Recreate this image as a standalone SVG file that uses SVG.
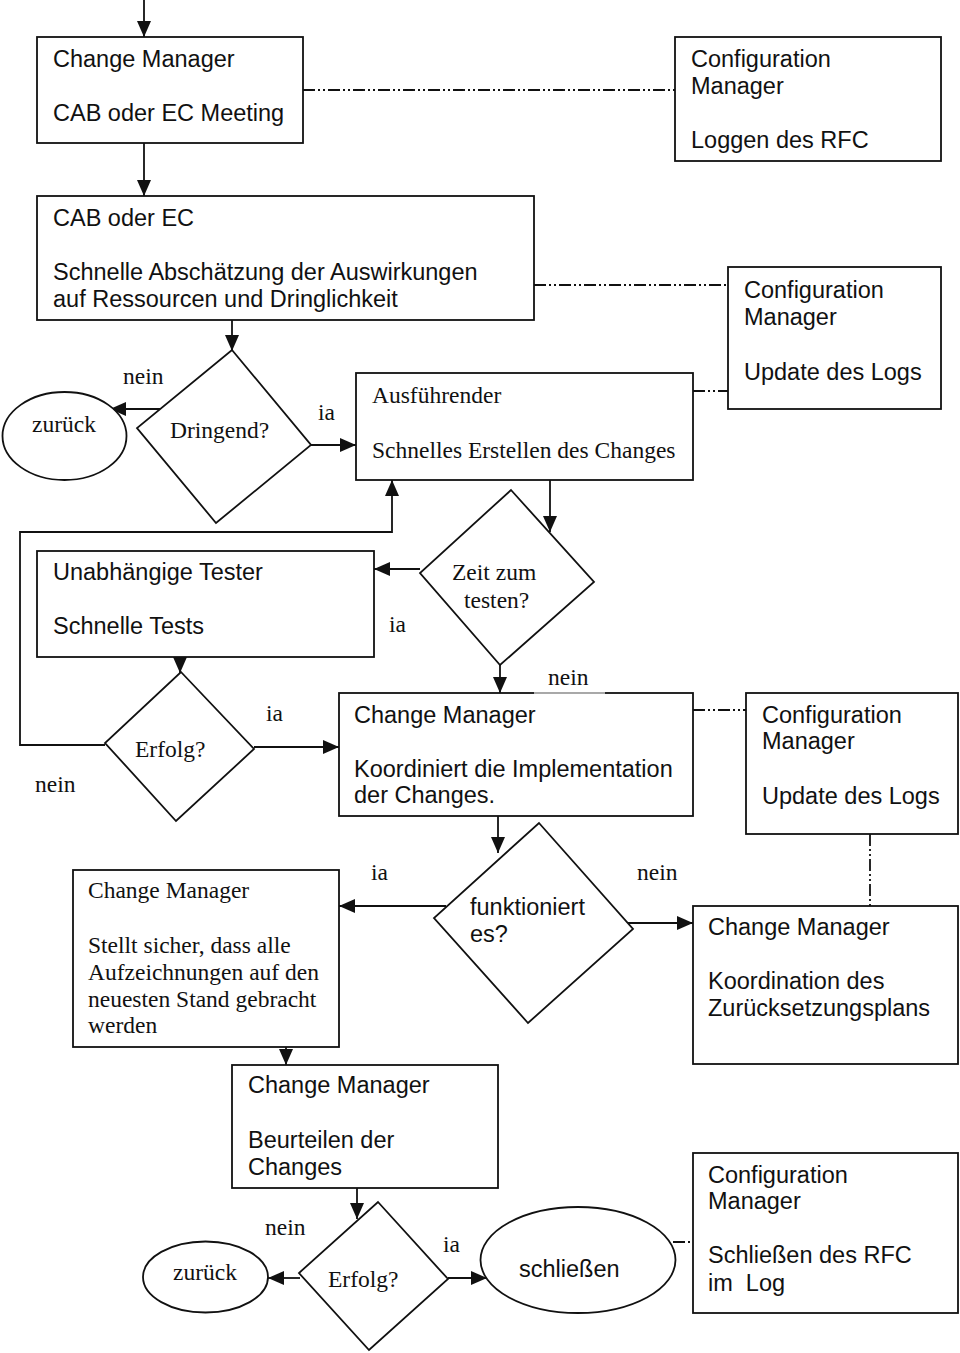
<svg xmlns="http://www.w3.org/2000/svg" width="960" height="1353" viewBox="0 0 960 1353">
<defs>
<marker id="ah" markerUnits="userSpaceOnUse" markerWidth="18" markerHeight="18" refX="16" refY="8" orient="auto"><path d="M0,1 L16,8 L0,15 z" fill="#111"/></marker>
<style>
.b{fill:#fff;stroke:#111;stroke-width:1.8}
.s{font-family:"Liberation Sans",Arial,sans-serif;font-size:23.5px;fill:#111}
.t{font-family:"Liberation Serif","Times New Roman",serif;font-size:23.5px;fill:#111}
.c{fill:none;stroke:#111;stroke-width:1.8}
.a{marker-end:url(#ah)}
.d{fill:none;stroke:#111;stroke-width:1.8;stroke-dasharray:12 3 2 3 2 3}
</style>
</defs>
<g id="connectors">
<line class="c a" x1="144" y1="0" x2="144" y2="37"/>
<line class="c a" x1="144" y1="143" x2="144" y2="196"/>
<line class="c a" x1="232" y1="320" x2="232" y2="351"/>
<line class="d" x1="303" y1="90" x2="675" y2="90"/>
<line class="d" x1="534" y1="285" x2="728" y2="285"/>
<line class="d" x1="693" y1="391" x2="728" y2="391"/>
<line class="c a" x1="162" y1="409" x2="110" y2="409"/>
<line class="c a" x1="311" y1="445" x2="356" y2="445"/>
<line class="c a" x1="550" y1="480" x2="550" y2="532"/>
<line class="c a" x1="420" y1="569" x2="374" y2="569"/>
<line class="c a" x1="500" y1="665" x2="500" y2="693"/>
<line class="c a" x1="180" y1="657" x2="180" y2="673"/>
<polyline class="c a" points="105,745 20,745 20,532 392,532 392,480"/>
<line class="c a" x1="254" y1="747" x2="339" y2="747"/>
<line class="d" x1="693" y1="710" x2="746" y2="710"/>
<line class="d" x1="870" y1="834" x2="870" y2="906"/>
<line class="c a" x1="498" y1="816" x2="498" y2="853"/>
<line class="c a" x1="446" y1="906" x2="339" y2="906"/>
<line class="c a" x1="622" y1="923" x2="693" y2="923"/>
<line class="c a" x1="286" y1="1047" x2="286" y2="1065"/>
<line class="c a" x1="357" y1="1188" x2="357" y2="1219"/>
<line class="c a" x1="300" y1="1278" x2="268" y2="1278"/>
<line class="c a" x1="448" y1="1278" x2="487" y2="1278"/>
<line class="d" x1="673" y1="1242" x2="693" y2="1242"/>
</g>
<g id="n1"><rect class="b" x="37" y="37" width="266" height="106"/><text class="s" x="53" y="67">Change Manager</text><text class="s" x="53" y="121">CAB oder EC Meeting</text></g>
<g id="n2"><rect class="b" x="675" y="37" width="266" height="124"/><text class="s" x="691" y="67">Configuration</text><text class="s" x="691" y="94">Manager</text><text class="s" x="691" y="148">Loggen des RFC</text></g>
<g id="n3"><rect class="b" x="37" y="196" width="497" height="124"/><text class="s" x="53" y="226">CAB oder EC</text><text class="s" x="53" y="280">Schnelle Abschätzung der Auswirkungen</text><text class="s" x="53" y="307">auf Ressourcen und Dringlichkeit</text></g>
<g id="n4"><rect class="b" x="728" y="267" width="213" height="142"/><text class="s" x="744" y="298">Configuration</text><text class="s" x="744" y="325">Manager</text><text class="s" x="744" y="380">Update des Logs</text></g>
<g id="n5"><ellipse class="b" cx="64.5" cy="436" rx="62" ry="44"/><text class="t" x="32" y="432">zurück</text></g>
<g id="n6"><polygon class="b" points="232,350 311,445 216,523 137,428"/><text class="t" x="170" y="438">Dringend?</text></g>
<g id="l1"><text class="t" x="123" y="384">nein</text><text class="t" x="318" y="420">ia</text></g>
<g id="n7"><rect class="b" x="356" y="373" width="337" height="107"/><text class="t" x="372" y="403">Ausführender</text><text class="t" x="372" y="458">Schnelles Erstellen des Changes</text></g>
<g id="n8"><rect class="b" x="37" y="551" width="337" height="106"/><text class="s" x="53" y="580">Unabhängige Tester</text><text class="s" x="53" y="634">Schnelle Tests</text></g>
<g id="n9"><polygon class="b" points="511,490 594,582 500,665 420,573"/><text class="t" x="452" y="580">Zeit zum</text><text class="t" x="464" y="608">testen?</text></g>
<g id="l2"><text class="t" x="389" y="632">ia</text></g>
<g id="n10"><polygon class="b" points="181,672 254,749 176,821 105,743"/><text class="t" x="135" y="757">Erfolg?</text></g>
<g id="l3"><text class="t" x="266" y="721">ia</text><text class="t" x="35" y="792">nein</text></g>
<g id="n11"><rect class="b" x="339" y="693" width="354" height="123"/><line x1="534" y1="693" x2="605" y2="693" stroke="#fff" stroke-width="2" stroke-opacity="0.6"/><text class="s" x="354" y="723">Change Manager</text><text class="s" x="354" y="777">Koordiniert die Implementation</text><text class="s" x="354" y="803">der Changes.</text></g>
<g id="l4"><text class="t" x="548" y="685">nein</text></g>
<g id="n12"><rect class="b" x="746" y="693" width="212" height="141"/><text class="s" x="762" y="723">Configuration</text><text class="s" x="762" y="749">Manager</text><text class="s" x="762" y="804">Update des Logs</text></g>
<g id="n13"><polygon class="b" points="539,823 633,929 528,1023 434,918"/><text class="s" x="470" y="915">funktioniert</text><text class="s" x="470" y="942">es?</text></g>
<g id="l5"><text class="t" x="371" y="880">ia</text><text class="t" x="637" y="880">nein</text></g>
<g id="n14"><rect class="b" x="73" y="870" width="266" height="177"/><text class="t" x="88" y="898">Change Manager</text><text class="t" x="88" y="953">Stellt sicher, dass alle</text><text class="t" x="88" y="980">Aufzeichnungen auf den</text><text class="t" x="88" y="1007">neuesten Stand gebracht</text><text class="t" x="88" y="1033">werden</text></g>
<g id="n15"><rect class="b" x="693" y="906" width="265" height="158"/><text class="s" x="708" y="935">Change Manager</text><text class="s" x="708" y="989">Koordination des</text><text class="s" x="708" y="1016">Zurücksetzungsplans</text></g>
<g id="n16"><rect class="b" x="232" y="1065" width="266" height="123"/><text class="s" x="248" y="1093">Change Manager</text><text class="s" x="248" y="1148">Beurteilen der</text><text class="s" x="248" y="1175">Changes</text></g>
<g id="n17"><polygon class="b" points="378,1202 448,1279 369,1350 299,1273"/><text class="t" x="328" y="1287">Erfolg?</text></g>
<g id="l6"><text class="t" x="265" y="1235">nein</text><text class="t" x="443" y="1252">ia</text></g>
<g id="n18"><ellipse class="b" cx="205.5" cy="1277" rx="62.5" ry="35.5"/><text class="t" x="173" y="1280">zurück</text></g>
<g id="n19"><ellipse class="b" cx="578" cy="1260" rx="97.5" ry="53"/><text class="s" x="519" y="1277">schließen</text></g>
<g id="n20"><rect class="b" x="693" y="1153" width="265" height="160"/><text class="s" x="708" y="1183">Configuration</text><text class="s" x="708" y="1209">Manager</text><text class="s" x="708" y="1263">Schließen des RFC</text><text class="s" x="708" y="1291" xml:space="preserve">im  Log</text></g>
</svg>
